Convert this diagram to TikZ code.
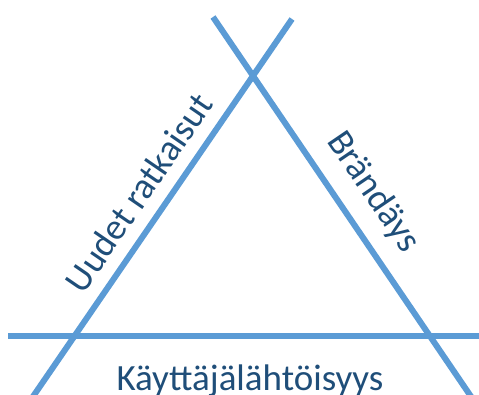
\documentclass[tikz,border=0pt]{standalone}
\usepackage{fontspec}
\setmainfont{Carlito}
\usepackage{xcolor}
\definecolor{lineblue}{HTML}{5B9BD5}
\definecolor{textblue}{HTML}{1F4E79}

\begin{document}
\begin{tikzpicture}[
    x=1pt, y=1pt,
    side/.style={draw=lineblue, line width=6pt},
    lbl/.style={text=textblue, font=\fontsize{37}{42}\selectfont, inner sep=0pt}
]
    \useasboundingbox (0,0) rectangle (479,394);
    % line ends
    \coordinate (lbot) at (32,-4);
    \coordinate (ltop) at (292,375);
    \coordinate (rtop) at (213,377);
    \coordinate (rbot) at (472,-4);
    \coordinate (hleft) at (8,58);
    \coordinate (hright) at (482,58);

    \draw[side] (lbot) -- (ltop);
    \draw[side] (rtop) -- (rbot);
    \draw[side] (hleft) -- (hright);

    \path (lbot) -- (ltop) node[lbl, pos=0.5, sloped, anchor=south, yshift=15pt] (uudet) {Uudet ratkaisut};
    \path (rtop) -- (rbot) node[lbl, pos=0.51, sloped, anchor=south, yshift=18pt] (brand) {Brändäys};
    \node[lbl, anchor=base] (kayt) at (250,4) {Käyttäjälähtöisyys};
\end{tikzpicture}
\end{document}
